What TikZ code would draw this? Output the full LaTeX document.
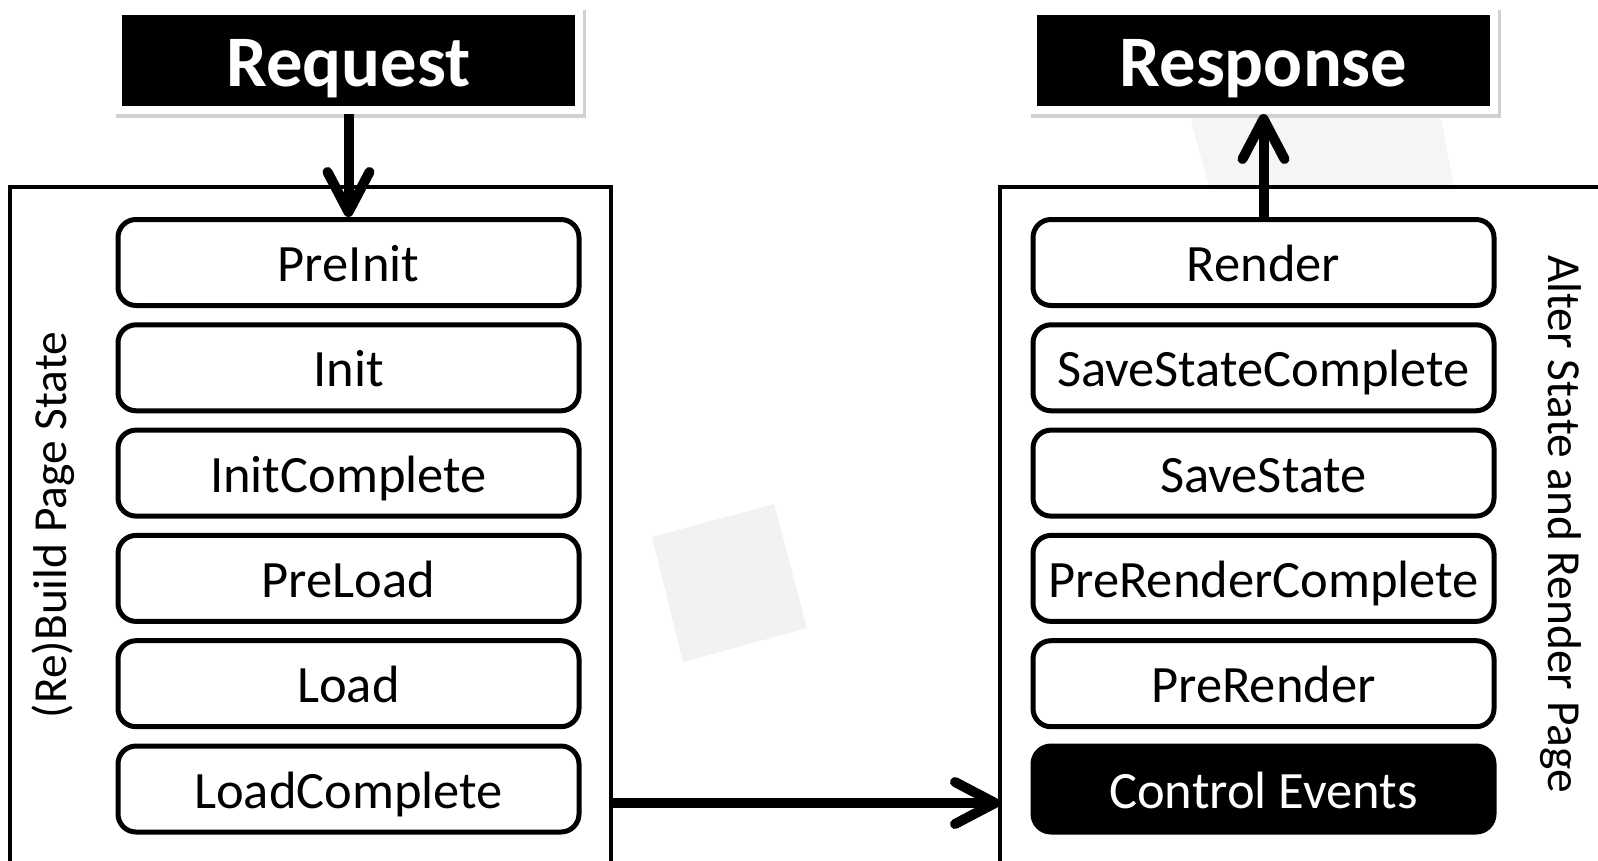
\documentclass[tikz,border=0pt]{standalone}
\usepackage{fontspec}
\setmainfont{Carlito}
\usetikzlibrary{
		positioning,
		arrows.meta
	}
\tikzset{
		>=stealth
	}

\begin{document}
\begin{tikzpicture}[x=1pt, y=-1pt,
					headbox/.style={fill=black, draw=white, line width=8pt, minimum width=461pt, minimum height=99pt, inner sep=0pt,
						text=white, font=\fontsize{72.6}{80}\selectfont\bfseries, text height=52pt, text depth=0pt,
						preaction={draw=black!18, fill=black!18, line width=9pt, transform canvas={shift={(2pt,-3pt)}}}},
					stagebox/.style={draw, line width=5pt, rounded corners=18pt, minimum width=461pt, minimum height=86pt, inner sep=0pt,
						font=\fontsize{52.5}{60}\selectfont, text height=38pt, text depth=0pt},
					eventbox/.style={stagebox, fill=black, text=white},
					frame/.style={line width=4pt},
					phase/.style={font=\fontsize{47.4}{54}\selectfont},
					flow/.style={line width=10pt, -{Straight Barb[length=40pt, width=42pt, round]}}]
		\useasboundingbox (0,0) rectangle (1598,860);
		% faint marks in the background
		\fill[black!5] (652,537) -- (774,504) -- (807,628) -- (683,662) -- cycle;
		\fill[black!4] (1189,113) -- (1440,113) -- (1454,187) -- (1209,187) -- cycle;
		% request and response
		\node[headbox] (request) at (348.5,60.5) {Request};
		\node[headbox] (response) at (1263.5,60.5) {Response};
		% the two frames
		\draw[frame] (10,880) -- (10,187) -- (611,187) -- (611,880);
		\draw[frame] (1000,880) -- (1000,187) -- (1620,187);
		\node[phase, rotate=90] (buildlabel) at (53,525) {(Re)Build Page State};
		\node[phase, rotate=-90] (renderlabel) at (1561,524) {Alter State and Render Page};
		% left stages
		\node[stagebox] (preinit) at (348.5,262.5) {PreInit};
		\node[stagebox, below=14.3pt of preinit] (init) {Init};
		\node[stagebox, below=14.3pt of init] (initcomplete) {InitComplete};
		\node[stagebox, below=14.3pt of initcomplete] (preload) {PreLoad};
		\node[stagebox, below=14.3pt of preload] (load) {Load};
		\node[stagebox, below=14.3pt of load] (loadcomplete) {LoadComplete};
		% right stages
		\node[stagebox] (render) at (1263.5,262.5) {Render};
		\node[stagebox, below=14.3pt of render] (savestatecomplete) {SaveStateComplete};
		\node[stagebox, below=14.3pt of savestatecomplete] (savestate) {SaveState};
		\node[stagebox, below=14.3pt of savestate] (prerendercomplete) {PreRenderComplete};
		\node[stagebox, below=14.3pt of prerendercomplete] (prerender) {PreRender};
		\node[eventbox, below=14.3pt of prerender] (controlevents) {Control Events};
		% arrows
		\coordinate (buildout) at (611,803);
		\coordinate (renderin) at (1000,803);
		\draw[flow] (request.south) -- (preinit.north);
		\draw[flow] (render.north) -- (response.south);
		\draw[flow] (buildout) -- (renderin);
	\end{tikzpicture}
\end{document}
